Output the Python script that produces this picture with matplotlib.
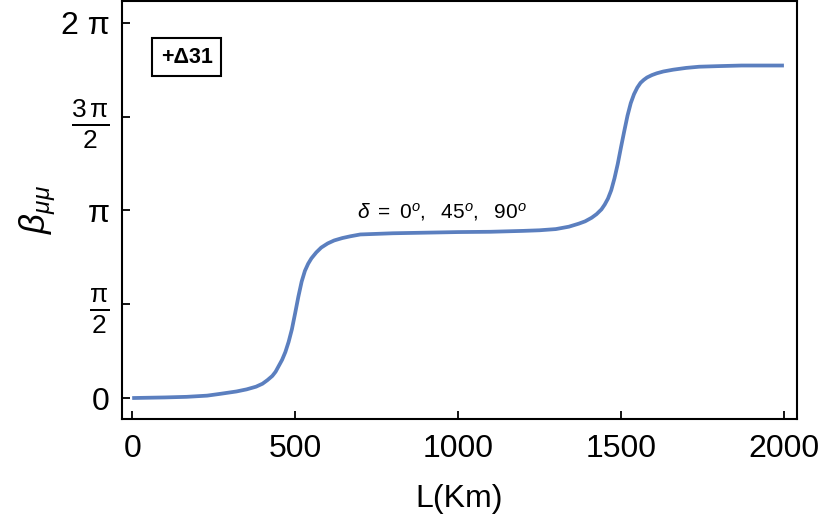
import numpy as np
import matplotlib
matplotlib.use("Agg")
import matplotlib.pyplot as plt

plt.rcParams["font.family"] = ["Liberation Sans", "DejaVu Sans"]
plt.rcParams["mathtext.fontset"] = "custom"
plt.rcParams["mathtext.rm"] = "Liberation Sans"
plt.rcParams["mathtext.it"] = "Liberation Sans:italic"
plt.rcParams["mathtext.bf"] = "Liberation Sans:bold"

# values
L_km = [0, 100, 167, 230, 270, 320, 351, 380, 400, 415, 430, 440, 450, 460, 470,
        480, 490, 500, 510, 520, 530, 540, 550, 565, 580, 600, 620, 645, 670,
        700, 800, 900, 1000, 1100, 1200, 1250, 1300, 1340, 1370, 1390, 1410,
        1425, 1440, 1450, 1460, 1470, 1480, 1490, 1500, 1510, 1520, 1530, 1540,
        1550, 1560, 1570, 1580, 1595, 1610, 1630, 1660, 1700, 1740, 1800, 1870,
        2000]
beta = [0.0, 0.01, 0.02, 0.04, 0.07, 0.11, 0.145, 0.19, 0.24, 0.30, 0.37, 0.44,
        0.54, 0.64, 0.77, 0.94, 1.15, 1.42, 1.70, 1.95, 2.13, 2.25, 2.34, 2.44,
        2.52, 2.59, 2.64, 2.68, 2.71, 2.74, 2.76, 2.77, 2.78, 2.785, 2.80, 2.81,
        2.83, 2.87, 2.92, 2.96, 3.02, 3.08, 3.16, 3.24, 3.34, 3.48, 3.68, 3.92,
        4.20, 4.47, 4.73, 4.94, 5.09, 5.20, 5.28, 5.33, 5.37, 5.41, 5.44, 5.47,
        5.50, 5.53, 5.55, 5.56, 5.57, 5.57]

yticks = [0, np.pi / 2, np.pi, 3 * np.pi / 2, 2 * np.pi]
ytick_labels = ["0", r"$\frac{\mathrm{\pi}}{2}$", "π",
                r"$\frac{3\,\mathrm{\pi}}{2}$", "2 π"]
xticks = [0, 500, 1000, 1500, 2000]

fig = plt.figure(figsize=(8.25, 5.23), dpi=100)
ax = fig.add_axes([0.148, 0.199, 0.818, 0.799])

ax.plot(L_km, beta, color="#5b7fbf", lw=2.7, solid_capstyle="butt",
        solid_joinstyle="round")

ax.set_xlim(-31, 2040)
ax.set_ylim(-0.35, 6.65)
ax.set_xticks(xticks)
ax.set_yticks(yticks)
ax.set_yticklabels(ytick_labels)
ax.tick_params(direction="in", length=6, width=1.3, labelsize=23,
               top=False, right=False)
ax.tick_params(axis="y", pad=9)
ax.tick_params(axis="x", pad=11)
for lab in ax.get_yticklabels()[1:4:2]:
    lab.set_fontsize(27)
for sp in ax.spines.values():
    sp.set_linewidth(1.5)

ax.set_xlabel("L(Km)", fontsize=23, labelpad=14)
ax.set_ylabel(r"$\beta_{\mu\mu}$", fontsize=25, labelpad=2)

ax.text(0.096, 0.866, "+Δ31", transform=ax.transAxes, fontsize=15.5,
        fontweight="bold", ha="center", va="center",
        bbox=dict(boxstyle="square,pad=0.4", fc="none", ec="black", lw=1.5))
ax.text(949, 3.02, r"$\delta\ =\ 0^o,\ \ 45^o,\ \ 90^o$", fontsize=15,
        ha="center", va="baseline")

fig.savefig("out.png", dpi=100)
